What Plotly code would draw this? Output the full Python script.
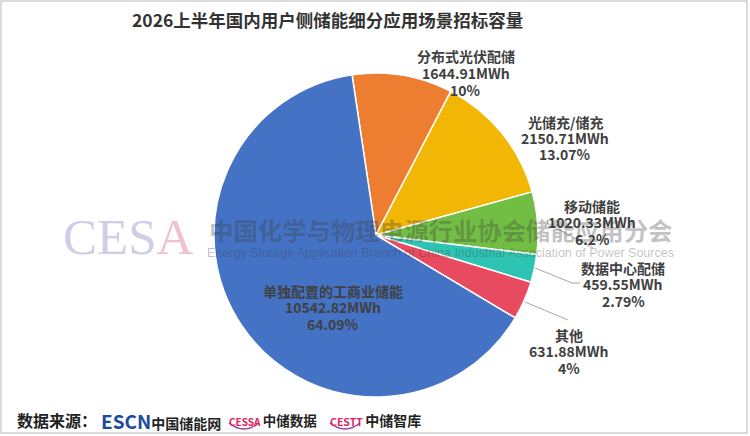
import plotly.graph_objects as go

W, H = 750, 436

# ---- data ----
categories = ["分布式光伏配储", "光储充/储充", "移动储能", "数据中心配储", "其他", "单独配置的工商业储能"]
values_mwh = [1644.91, 2150.71, 1020.33, 459.55, 631.88, 10542.82]
pct_labels = ["10%", "13.07%", "6.2%", "2.79%", "4%", "64.09%"]
colors = ["#ED7D31", "#F2B705", "#72BE44", "#2EC4B4", "#E84A5F", "#4472C4"]

title_text = "2026上半年国内用户侧储能细分应用场景招标容量"

def px(x):
    return x / W

def py(y):
    return 1 - y / H

cx, cy, r = 376, 235, 162

fig = go.Figure()
fig.add_trace(go.Pie(
    labels=categories,
    values=values_mwh,
    sort=False,
    direction="clockwise",
    rotation=-8.5,
    marker=dict(colors=colors, line=dict(color="white", width=1.5)),
    textinfo="none",
    hoverinfo="label+value",
    showlegend=False,
    domain=dict(x=[px(cx - r), px(cx + r)], y=[py(cy + r), py(cy - r)]),
))

FONT = "Noto Sans CJK SC"
# label centre (x, y of middle line)
label_pos = [(466, 73), (565, 138), (592, 222), (623, 284), (569, 351), (333, 307)]
LINE = 16.5

annotations = []
for name, v, p, (lx, ly) in zip(categories, values_mwh, pct_labels, label_pos):
    for k, line in enumerate([name, f"{v:.2f}MWh", p]):
        annotations.append(dict(
            x=px(lx), y=py(ly + (k - 1) * LINE), xref="paper", yref="paper",
            text=f"<b>{line}</b>",
            showarrow=False, xanchor="center", yanchor="middle", align="center",
            font=dict(family=FONT, size=14, color="#404040"),
        ))

# title
annotations.append(dict(
    x=px(327), y=py(19), xref="paper", yref="paper",
    text=f"<b>{title_text}</b>", showarrow=False,
    xanchor="center", yanchor="middle",
    font=dict(family=FONT, size=17.5, color="#333333"),
))

# watermark
annotations.append(dict(
    x=px(128.5), y=py(237), xref="paper", yref="paper",
    text="<span style='color:rgba(185,185,222,0.7)'>CES</span><span style='color:rgba(238,178,200,0.8)'>A</span>",
    showarrow=False, xanchor="center", yanchor="middle",
    font=dict(family="Liberation Serif", size=51),
))
annotations.append(dict(
    x=px(440), y=py(230), xref="paper", yref="paper",
    text="中国化学与物理电源行业协会储能应用分会", showarrow=False,
    xanchor="center", yanchor="middle",
    font=dict(family=FONT, size=24.4, color="rgba(60,60,60,0.33)", weight=600),
))
annotations.append(dict(
    x=px(440), y=py(253), xref="paper", yref="paper",
    text="Energy Storage Application Branch of China Industrial Association of Power Sources",
    showarrow=False, xanchor="center", yanchor="middle",
    font=dict(family="Liberation Sans", size=12.5, color="rgba(60,60,60,0.33)"),
))

# source line
annotations.append(dict(
    x=px(15), y=py(420), xref="paper", yref="paper",
    text="<b>数据来源：</b>", showarrow=False, xanchor="left", yanchor="middle",
    font=dict(family=FONT, size=16, color="#222222"),
))
annotations.append(dict(
    x=px(99), y=py(420), xref="paper", yref="paper",
    text="<b><span style='color:#1B4C9C;font-size:19px'>ESCN</span>中国储能网</b>",
    showarrow=False, xanchor="left", yanchor="middle",
    font=dict(family=FONT, size=14, color="#222222"),
))
annotations.append(dict(
    x=px(227), y=py(420), xref="paper", yref="paper",
    text="<b><span style='color:#E0245E;font-size:10px'>CESSA </span>中储数据</b>",
    showarrow=False, xanchor="left", yanchor="middle",
    font=dict(family=FONT, size=13.5, color="#222222"),
))
annotations.append(dict(
    x=px(328), y=py(420), xref="paper", yref="paper",
    text="<b><span style='color:#E0245E;font-size:10.5px'>CESTT </span>中储智库</b>",
    showarrow=False, xanchor="left", yanchor="middle",
    font=dict(family=FONT, size=14, color="#222222"),
))

shapes = []
# leader lines
for pts in [[(547, 223), (593, 248)],
            [(535, 268), (572, 283), (580, 283)],
            [(525, 302), (568, 320)]]:
    path = "M " + " L ".join(f"{px(x)},{py(y)}" for x, y in pts)
    shapes.append(dict(type="path", xref="paper", yref="paper", path=path,
                       line=dict(color="#A6A6A6", width=1)))
# small arcs under logos
for x0 in (227, 328):
    shapes.append(dict(type="path", xref="paper", yref="paper",
                       path=f"M {px(x0+2)},{py(423)} Q {px(x0+17)},{py(435)} {px(x0+32)},{py(423)}",
                       line=dict(color="#9B3FA0", width=1.5)))
# frame
shapes.append(dict(type="rect", xref="paper", yref="paper",
                   x0=px(1), x1=px(747), y0=py(433), y1=py(1),
                   line=dict(color="#D0D0D0", width=1.5)))

fig.update_layout(
    width=W, height=H,
    margin=dict(l=0, r=0, t=0, b=0),
    paper_bgcolor="white", plot_bgcolor="white",
    annotations=annotations, shapes=shapes,
)

fig.write_html("out.html", config={"displayModeBar": False},
               post_script="document.body.style.margin='0';document.body.style.overflow='hidden';")
